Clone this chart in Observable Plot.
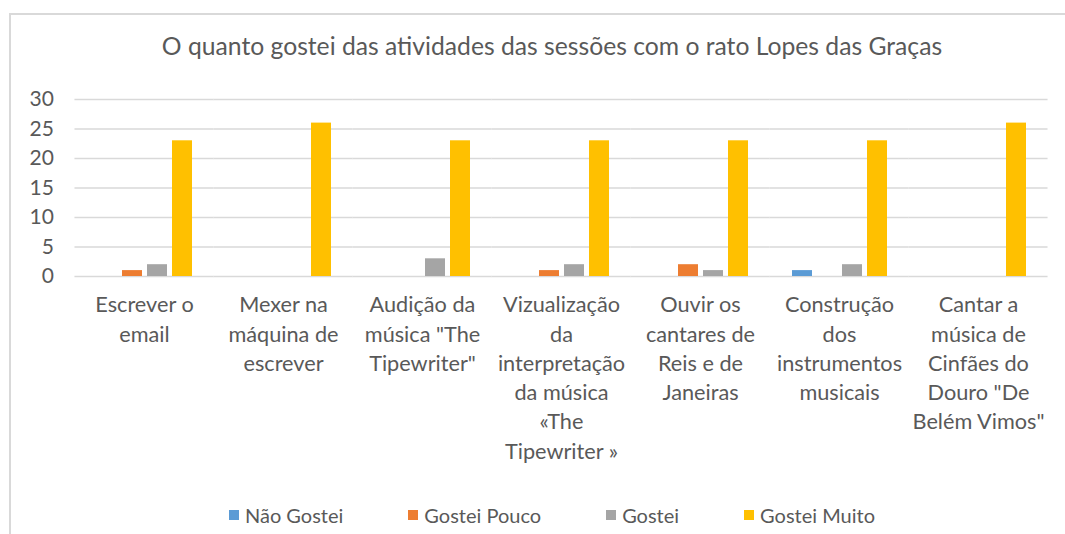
<!DOCTYPE html>
<html>
<head>
<meta charset="utf-8">
<script src="https://cdn.jsdelivr.net/npm/d3@7"></script>
<script src="https://cdn.jsdelivr.net/npm/@observablehq/plot@0.6"></script>
<style>
  html, body { margin: 0; padding: 0; background: #fff; }
  #wrap { position: relative; width: 1065px; height: 534px; overflow: hidden; font-family: Lato, "Open Sans", sans-serif; color: #595959; }
  #frame { position: absolute; left: 9px; top: 13px; width: 1100px; height: 600px; border-left: 2px solid #d9d9d9; border-top: 2px solid #d9d9d9; box-sizing: border-box; }
  #title { position: absolute; left: 9px; width: 1086px; top: 29px; text-align: center; font-size: 24.7px; line-height: 34px; white-space: nowrap; }
  #chart { position: absolute; left: 0; top: 80px; }
  #legend { position: absolute; left: 9px; width: 1086px; top: 502px; display: flex; justify-content: center; gap: 65px; font-size: 20px; line-height: 26px; }
  .item { display: flex; align-items: center; gap: 6px; }
  .sw { width: 10px; height: 10px; display: inline-block; }
</style>
</head>
<body>
<div id="wrap">
  <div id="frame"></div>
  <div id="title"></div>
  <div id="chart"></div>
  <div id="legend"></div>
</div>
<script>
const titleText = "O quanto gostei das atividades das sessões com o rato Lopes das Graças";
const categories = [
  "Escrever o email",
  "Mexer na máquina de escrever",
  "Audição da música \"The Tipewriter\"",
  "Vizualização da interpretação da música «The Tipewriter »",
  "Ouvir os cantares de Reis e de Janeiras",
  "Construção dos instrumentos musicais",
  "Cantar a música de Cinfães do Douro \"De Belém Vimos\""
];
const categoryLines = [
  "Escrever o\nemail",
  "Mexer na\nmáquina de\nescrever",
  "Audição da\nmúsica \"The\nTipewriter\"",
  "Vizualização\nda\ninterpretação\nda música\n«The\nTipewriter »",
  "Ouvir os\ncantares de\nReis e de\nJaneiras",
  "Construção\ndos\ninstrumentos\nmusicais",
  "Cantar a\nmúsica de\nCinfães do\nDouro \"De\nBelém Vimos\""
];
const series = ["Não Gostei", "Gostei Pouco", "Gostei", "Gostei Muito"];
const colors = ["#5B9BD5", "#ED7D31", "#A5A5A5", "#FFC000"];
const naoGostei   = [0, 0, 0, 0, 0, 1, 0];
const gosteiPouco = [1, 0, 0, 1, 2, 0, 0];
const gostei      = [2, 0, 3, 2, 1, 2, 0];
const gosteiMuito = [23, 26, 23, 23, 23, 23, 26];
const yTicks = [0, 5, 10, 15, 20, 25, 30];

const valuesBySeries = [naoGostei, gosteiPouco, gostei, gosteiMuito];
const data = [];
categories.forEach((c, i) => {
  series.forEach((s, j) => data.push({category: c, series: s, value: valuesBySeries[j][i]}));
});
const lineMap = new Map(categories.map((c, i) => [c, categoryLines[i]]));

document.getElementById("title").textContent = titleText;

const W = 1065, mL = 73, mR = 15;
const pInner = 0.28;
const step = (W - mL - mR) / categories.length;
const ext = step * pInner / 2;

const chart = Plot.plot({
  width: W,
  height: 400,
  marginLeft: mL,
  marginRight: mR,
  marginTop: 19,
  marginBottom: 204,
  style: {fontFamily: "Lato, 'Open Sans', sans-serif", color: "#595959", background: "transparent"},
  fx: {domain: categories, paddingInner: pInner, paddingOuter: pInner / 2, label: null},
  x: {domain: series, paddingInner: 0.2, paddingOuter: 0.1, axis: null},
  y: {domain: [0, 30], label: null},
  color: {domain: series, range: colors},
  marks: [
    Plot.ruleY(yTicks, {y: d => d, stroke: "#d9d9d9", strokeWidth: 1.5, insetLeft: -ext, insetRight: -ext}),
    Plot.barY(data, {fx: "category", x: "series", y: "value", fill: "series"}),
    Plot.axisY({ticks: yTicks, tickSize: 0, tickPadding: 21 + ext, fontSize: 21, color: "#595959", label: null}),
    Plot.axisFx({anchor: "bottom", tickSize: 0, tickPadding: 15, fontSize: 21.7, lineAnchor: "top", lineHeight: 1.35, color: "#595959", label: null, tickFormat: d => lineMap.get(d)})
  ]
});
document.getElementById("chart").appendChild(chart);

const legend = document.getElementById("legend");
series.forEach((s, i) => {
  const item = document.createElement("div");
  item.className = "item";
  const sw = document.createElement("span");
  sw.className = "sw";
  sw.style.background = colors[i];
  const t = document.createElement("span");
  t.textContent = s;
  item.appendChild(sw);
  item.appendChild(t);
  legend.appendChild(item);
});
</script>
</body>
</html>
